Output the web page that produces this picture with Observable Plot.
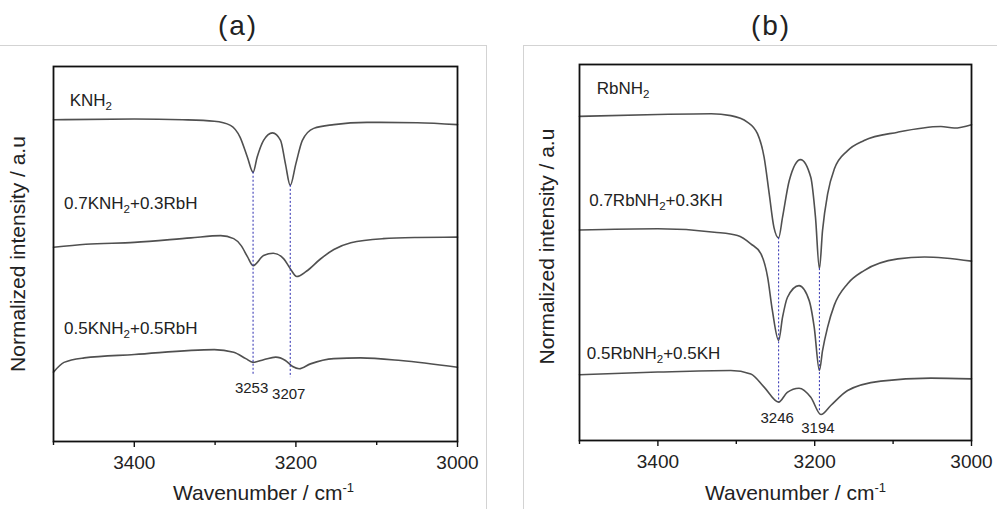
<!DOCTYPE html>
<html><head><meta charset="utf-8">
<script src="https://cdn.jsdelivr.net/npm/d3@7"></script>
<script src="https://cdn.jsdelivr.net/npm/@observablehq/plot@0.6"></script>
<style>
body{margin:0;background:#fff;}
#wrap{position:relative;width:997px;height:509px;overflow:hidden;font-family:"Liberation Sans",Arial,sans-serif;color:#222;background:#fff;}
.box{position:absolute;top:45px;border:1px solid #d3d3d3;height:600px;}
.title{position:absolute;top:10px;width:100px;text-align:center;font-size:28px;line-height:32px;letter-spacing:2px;}
.panel{position:absolute;top:45px;}
</style></head><body>
<div id="wrap">
  <div class="box" style="left:-1px;width:486px"></div>
  <div class="box" style="left:523px;width:600px"></div>
  <div class="title" style="left:188px">(a)</div>
  <div class="title" style="left:721px">(b)</div>
  <div class="panel" id="pa" style="left:0px"></div>
  <div class="panel" id="pb" style="left:524px"></div>
</div>
<script>
// ---------- Panel (a) data ----------
const namesA = ["KNH2", "0.7KNH2+0.3RbH", "0.5KNH2+0.5RbH"];
const wnA1 = [3500,3400,3340,3301,3281,3269,3260,3253,3248,3240,3229,3219,3213,3207,3200,3192,3178,3153,3112,3050,3000];
const yA1  = [85.8,86.0,85.8,85.4,84.3,81.1,75.8,71.8,75.8,80.3,82.3,80.3,74.1,68.3,74.1,80.3,83.5,84.5,85.1,85.0,84.5];
const wnA2 = [3500,3460,3400,3330,3293,3277,3268,3260,3253,3240,3228,3215,3207,3199,3187,3170,3153,3132,3092,3050,3000];
const yA2  = [51.8,52.6,53.1,54.3,54.9,54.1,52.3,49.3,46.9,49.6,50.2,48.7,46.1,44.0,45.4,48.6,51.2,53.0,54.1,54.4,54.5];
const wnA3 = [3500,3487,3462,3400,3301,3277,3262,3253,3240,3225,3213,3204,3196,3182,3153,3120,3070,3000];
const yA3  = [18.5,21.1,22.3,23.2,24.5,23.8,22.1,21.1,21.8,22.5,21.6,20.0,19.4,20.7,22.1,22.3,21.6,19.8];
const peaksA = [3253, 3207];
const labelWnA = [3480, 3487, 3487];
const labelYA  = [89.6, 62.1, 28.7];

// ---------- Panel (b) data ----------
const namesB = ["RbNH2", "0.7RbNH2+0.3KH", "0.5RbNH2+0.5KH"];
const wnB1 = [3500,3400,3332,3307,3286,3273,3264.5,3258,3252,3246,3241,3232.5,3218,3205,3199,3194,3190,3183.5,3175,3158,3137,3094,3039,3022,3000];
const yB1  = [86.2,86.7,86.9,86.4,84.7,81.6,75.3,65.6,56.7,53.9,59.4,69.1,74.7,70.0,59.4,45.7,55.9,65.6,72.2,77.1,79.8,82.0,83.5,83.1,84.0];
const wnB2 = [3500,3400,3328,3298.5,3281.5,3268.7,3260,3254,3246,3241,3234.7,3220,3207,3200.6,3194,3190,3183.6,3175,3158,3137,3094,3060,3000];
const yB2  = [56.0,56.3,55.4,54.5,52.3,49.7,43.4,34.6,26.6,32.8,38.1,41.2,37.2,30.1,18.6,23.9,30.1,36.0,41.7,45.2,48.3,48.8,47.7];
const wnB3 = [3500,3400,3307,3281.5,3264.5,3246,3235,3220,3205,3192,3179.5,3158,3115.7,3052,3000];
const yB3  = [17.5,18.2,18.6,17.7,14.2,10.2,12.8,13.9,11.5,6.9,9.3,13.3,15.8,16.6,16.4];
const peaksB = [3246, 3194];
const labelWnB = [3478, 3487.6, 3490.7];
const labelYB  = [92.2, 62.5, 21.7];

const xTicksMajor = [3400, 3200, 3000];
const xTicksMinor = [3500, 3300, 3100];
const xTitle = "Wavenumber / cm-1";
const yTitle = "Normalized intensity / a.u";

function interp(wn, ys, w) {
  for (let i = 0; i < wn.length - 1; i++) {
    const a = wn[i], b = wn[i + 1];
    if ((w <= a && w >= b)) { const t = (a - w) / (a - b); return ys[i] + t * (ys[i + 1] - ys[i]); }
  }
  return ys[ys.length - 1];
}

function makePanel(cfg) {
  const rows = [];
  cfg.series.forEach((s, k) => s.wn.forEach((w, i) => rows.push({wn: w, v: s.y[i], name: cfg.names[k]})));
  const top = cfg.series[0], bot = cfg.series[2];
  const rules = cfg.peaks.map(p => ({wn: p, y1: interp(top.wn, top.y, p), y2: interp(bot.wn, bot.y, p) - cfg.below}));
  const labels = cfg.names.map((n, i) => ({name: n, wn: cfg.labelWn[i], v: cfg.labelY[i]}));
  const peakTexts = rules.map((r, i) => Plot.text([r], {x: "wn", y: "y2", text: d => String(d.wn), lineAnchor: "top", textAnchor: "middle", dy: cfg.peakDy[i], dx: -1.5, fontSize: 15, fill: "#222"}));
  return Plot.plot({
    width: cfg.width, height: 464,
    marginLeft: cfg.ml, marginRight: cfg.mr, marginTop: cfg.mt, marginBottom: cfg.mb,
    x: {domain: [3500, 3000]},
    y: {domain: [0, 100], axis: null},
    style: {fontFamily: '"Liberation Sans", Arial, sans-serif', fontSize: "16px", color: "#222", background: "transparent", overflow: "visible"},
    marks: [
      Plot.line(rows, {x: "wn", y: "v", z: "name", stroke: "#505050", strokeWidth: 1.6, curve: "monotone-x"}),
      Plot.ruleX(rules, {x: "wn", y1: "y1", y2: "y2", stroke: "#2b2bb0", strokeWidth: 1, strokeDasharray: "2,2"}),
      Plot.frame({stroke: "#111", strokeWidth: 1.8}),
      Plot.axisX(xTicksMajor, {tickSize: 6, tickPadding: 8, fontSize: 19, tickFormat: d => String(d), label: null, strokeWidth: 1.4, stroke: "#111"}),
      Plot.axisX(xTicksMinor, {tickSize: 4, tickFormat: () => "", label: null, strokeWidth: 1.4, stroke: "#111"}),
      Plot.text(labels, {x: "wn", y: "v", text: "name", textAnchor: "start", lineAnchor: "bottom", fontSize: 17, fill: "#222"}),
      ...peakTexts,
      Plot.text([xTitle], {text: d => d, frameAnchor: "bottom", lineAnchor: "top", textAnchor: "middle", dy: cfg.xdy, dx: cfg.xdx, fontSize: 21, fill: "#222"}),
      Plot.text([yTitle], {text: d => d, frameAnchor: "left", rotate: -90, textAnchor: "middle", lineAnchor: "middle", dx: cfg.ydx, dy: cfg.ydy, fontSize: 21, fill: "#222"})
    ]
  });
}

function addSpan(t, str, attrs) {
  const s = document.createElementNS("http://www.w3.org/2000/svg", "tspan");
  s.textContent = str;
  if (attrs) for (const k in attrs) s.setAttribute(k, attrs[k]);
  t.appendChild(s);
}
function fixText(svg) {
  svg.querySelectorAll("text").forEach(t => {
    const s = t.textContent;
    let m;
    if ((m = s.match(/^(.*NH)2(.*)$/))) {
      t.textContent = "";
      addSpan(t, m[1]);
      addSpan(t, "2", {dy: 4, "font-size": "0.68em"});
      if (m[2]) addSpan(t, m[2], {dy: -4});
    } else if ((m = s.match(/^(.*cm)-1$/))) {
      t.textContent = "";
      addSpan(t, m[1]);
      addSpan(t, "-1", {dy: -8, "font-size": "0.62em"});
    }
  });
}

const a = makePanel({
  series: [{wn: wnA1, y: yA1}, {wn: wnA2, y: yA2}, {wn: wnA3, y: yA3}],
  names: namesA, peaks: peaksA, labelWn: labelWnA, labelY: labelYA, below: 3.5, peakDy: [7, 11],
  width: 487, ml: 53, mr: 30, mt: 21, mb: 68, xdx: 8, xdy: 44, ydx: -35, ydy: 0
});
const b = makePanel({
  series: [{wn: wnB1, y: yB1}, {wn: wnB2, y: yB2}, {wn: wnB3, y: yB3}],
  names: namesB, peaks: peaksB, labelWn: labelWnB, labelY: labelYB, below: 0, peakDy: [10, 10],
  width: 473, ml: 55, mr: 26, mt: 19, mb: 69, xdx: 20, xdy: 45, ydx: -32, ydy: -6
});
fixText(a); fixText(b);
document.getElementById("pa").appendChild(a);
document.getElementById("pb").appendChild(b);
</script>
</body></html>
